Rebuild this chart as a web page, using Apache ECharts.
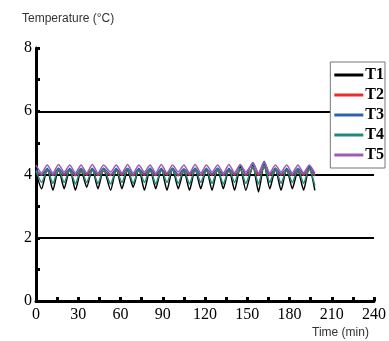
<!DOCTYPE html>
<html>
<head>
<meta charset="utf-8">
<script src="https://cdn.jsdelivr.net/npm/echarts@6/dist/echarts.min.js"></script>
<style>
  html, body { margin: 0; padding: 0; background: #fff; }
  #chart { width: 389px; height: 341px; }
</style>
</head>
<body>
<div id="chart"></div>
<script>
// time points (min)
const times = [0, 4, 8, 12, 16, 20, 24, 28, 32, 36, 40, 44, 48, 53, 57, 61, 65, 69, 73, 77,
  81, 85, 89, 93, 97, 101, 105, 109, 113, 117, 121, 125, 129, 133, 137, 141, 145, 149, 154, 158,
  162, 166, 170, 174, 178, 182, 186, 190, 194, 198]

// temperatures (°C)
const t1 = [4.05, 3.55, 4.2, 3.5, 4.2, 3.55, 4.2, 3.5, 4.15, 3.6, 4.2, 3.55, 4.2, 3.5, 4.2, 3.55, 4.15, 3.6, 4.2, 3.5,
  4.2, 3.55, 4.2, 3.5, 4.2, 3.55, 4.15, 3.5, 4.2, 3.55, 4.2, 3.5, 4.2, 3.55, 4.2, 3.5, 4.25, 3.5, 4.3, 3.45,
  4.35, 3.55, 4.2, 3.5, 4.2, 3.55, 4.15, 3.5, 4.25, 3.5]
const t2 = [4.1, 3.98, 4.12, 3.97, 4.1, 3.98, 4.12, 3.96, 4.1, 3.98, 4.13, 3.97, 4.1, 3.97, 4.12, 3.98, 4.1, 3.96, 4.12, 3.98,
  4.1, 3.97, 4.12, 3.98, 4.15, 3.96, 4.1, 3.98, 4.12, 3.97, 4.1, 3.98, 4.12, 3.97, 4.1, 3.98, 4.15, 3.97, 4.2, 3.98,
  4.22, 3.97, 4.12, 3.98, 4.1, 3.97, 4.12, 3.98, 4.15, 3.95]
const t3 = [4.15, 4.0, 4.18, 4.0, 4.2, 4.02, 4.18, 4.0, 4.2, 4.02, 4.18, 4.0, 4.2, 4.0, 4.18, 4.02, 4.2, 4.0, 4.18, 4.02,
  4.2, 4.0, 4.18, 4.02, 4.2, 4.0, 4.18, 4.02, 4.2, 4.0, 4.18, 4.02, 4.2, 4.0, 4.18, 4.02, 4.3, 4.0, 4.38, 4.02,
  4.42, 4.0, 4.2, 4.02, 4.18, 4.0, 4.2, 4.02, 4.25, 3.98]
const t4 = [4.1, 3.75, 4.15, 3.72, 4.18, 3.75, 4.15, 3.7, 4.18, 3.75, 4.15, 3.72, 4.18, 3.7, 4.15, 3.75, 4.18, 3.72, 4.15, 3.75,
  4.18, 3.7, 4.15, 3.75, 4.18, 3.72, 4.15, 3.7, 4.18, 3.75, 4.15, 3.72, 4.18, 3.7, 4.15, 3.75, 4.2, 3.72, 4.25, 3.7,
  4.3, 3.75, 4.18, 3.72, 4.15, 3.75, 4.18, 3.72, 4.2, 3.65]
const t5 = [4.3, 4.05, 4.3, 4.05, 4.32, 4.08, 4.3, 4.05, 4.3, 4.05, 4.32, 4.05, 4.3, 4.08, 4.3, 4.05, 4.32, 4.05, 4.3, 4.08,
  4.3, 4.05, 4.32, 4.05, 4.3, 4.08, 4.3, 4.05, 4.32, 4.05, 4.3, 4.08, 4.3, 4.05, 4.32, 4.05, 4.32, 4.08, 4.35, 4.05,
  4.38, 4.05, 4.3, 4.08, 4.3, 4.05, 4.3, 4.05, 4.3, 4.05]

const seriesNames = ['T1', 'T2', 'T3', 'T4', 'T5']
const seriesData = [t1, t2, t3, t4, t5]
const colors = ['#000000', '#ee2b2b', '#2f5fb3', '#22877c', '#a259b5']

const serif = 'Liberation Serif'

const chart = echarts.init(document.getElementById('chart'))
chart.setOption({
  animation: false,
  grid: { left: 36, right: 15, top: 48, bottom: 40 },
  legend: {
    orient: 'vertical',
    right: 4,
    top: 62,
    padding: [5, 1, 5, 4],
    itemGap: 4,
    itemWidth: 29,
    itemHeight: 3,
    icon: 'rect',
    borderColor: '#777',
    borderWidth: 1,
    backgroundColor: '#fff',
    data: seriesNames,
    textStyle: { fontFamily: serif, fontWeight: 'bold', fontSize: 16, color: '#000', padding: [0, 0, 0, -3] }
  },
  xAxis: {
    type: 'value',
    min: 0,
    max: 240,
    interval: 30,
    axisLine: { onZero: false, lineStyle: { color: '#000', width: 3 } },
    axisTick: { inside: true, length: 4, lineStyle: { color: '#000', width: 3 } },
    minorTick: { show: true, splitNumber: 2, length: 4, lineStyle: { color: '#000', width: 3 } },
    axisLabel: { fontFamily: serif, fontSize: 16, color: '#000', margin: 6 },
    splitLine: { show: false }
  },
  yAxis: {
    type: 'value',
    min: 0,
    max: 8,
    interval: 2,
    axisLine: { show: true, lineStyle: { color: '#000', width: 3 } },
    axisTick: { show: true, inside: true, length: 4, lineStyle: { color: '#000', width: 3 } },
    minorTick: { show: true, splitNumber: 2, length: 4, lineStyle: { color: '#000', width: 3 } },
    axisLabel: { fontFamily: serif, fontSize: 16, color: '#000', margin: 4 },
    splitLine: { show: true, showMinLine: false, showMaxLine: false, lineStyle: { color: '#000', width: 2 } }
  },
  graphic: [
    {
      type: 'text', left: 22, top: 13,
      style: { text: 'Temperature (°C)', font: '12px "Liberation Sans"', fill: '#333' }
    },
    {
      type: 'text', left: 312, top: 327,
      style: { text: 'Time (min)', font: '12px "Liberation Sans"', fill: '#333' }
    }
  ],
  series: seriesNames.map((name, k) => ({
    name: name,
    type: 'line',
    data: times.map((t, i) => [t, seriesData[k][i]]),
    showSymbol: false,
    smooth: 0.2,
    lineStyle: { color: colors[k], width: 1.5 },
    itemStyle: { color: colors[k] }
  }))
})
</script>
</body>
</html>
